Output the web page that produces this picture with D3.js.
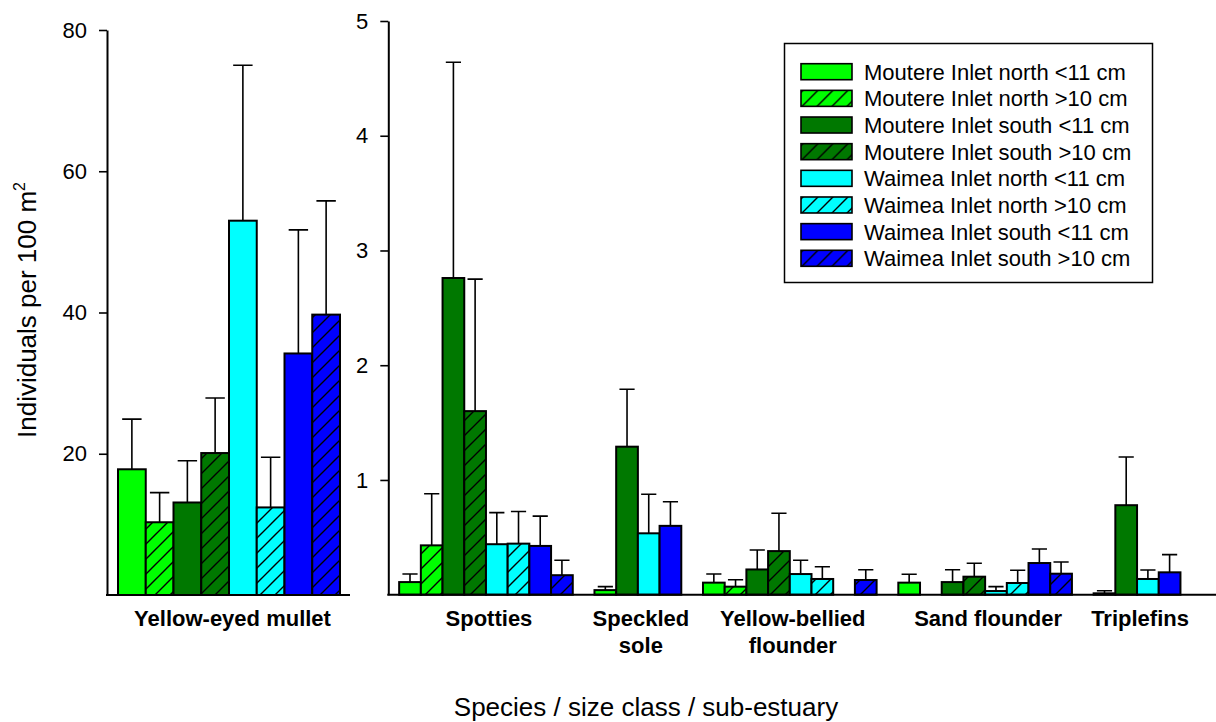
<!DOCTYPE html>
<html>
<head>
<meta charset="utf-8">
<script src="https://cdn.jsdelivr.net/npm/d3@7"></script>
<style>
  body { margin: 0; background: #fff; }
  text { font-family: "Liberation Sans", Arial, sans-serif; }
</style>
</head>
<body>
<div id="chart"></div>
<script>
// series (site x size class)
var seriesNames = [
  "Moutere Inlet north <11 cm", "Moutere Inlet north >10 cm",
  "Moutere Inlet south <11 cm", "Moutere Inlet south >10 cm",
  "Waimea Inlet north <11 cm", "Waimea Inlet north >10 cm",
  "Waimea Inlet south <11 cm", "Waimea Inlet south >10 cm"
];
var seriesColors = ["#00ff00", "#00ff00", "#007800", "#007800", "#00ffff", "#00ffff", "#0000ff", "#0000ff"];
var seriesHatched = [false, true, false, true, false, true, false, true];

// left panel: yellow-eyed mullet (mean, upper error)
var mulletLabel = "Yellow-eyed mullet";
var mulletMean = [17.8, 10.3, 13.1, 20.1, 53.0, 12.4, 34.2, 39.7];
var mulletErr  = [7.1, 4.2, 5.9, 7.8, 22.0, 7.1, 17.5, 16.1];
var leftTicks = [20, 40, 60, 80];

// right panel species, null = no bar
var rightSpecies = ["Spotties", "Speckled\nsole", "Yellow-bellied\nflounder", "Sand flounder", "Triplefins"];
var spottiesMean = [0.11, 0.43, 2.76, 1.60, 0.44, 0.445, 0.425, 0.17];
var spottiesErr  = [0.07, 0.45, 1.88, 1.15, 0.275, 0.28, 0.26, 0.13];
var soleMean = [0.04, null, 1.29, null, 0.535, null, 0.60, null];
var soleErr  = [0.03, null, 0.50, null, 0.34, null, 0.21, null];
var ybFlounderMean = [0.105, 0.07, 0.22, 0.38, 0.18, 0.137, null, 0.128];
var ybFlounderErr  = [0.075, 0.06, 0.17, 0.33, 0.12, 0.107, null, 0.09];
var sandFlounderMean = [0.105, null, 0.11, 0.157, 0.032, 0.102, 0.276, 0.183];
var sandFlounderErr  = [0.073, null, 0.108, 0.117, 0.038, 0.111, 0.122, 0.102];
var triplefinsMean = [0.012, null, 0.78, null, 0.137, null, 0.195, null];
var triplefinsErr  = [0.023, null, 0.42, null, 0.078, null, 0.154, null];
var rightTicks = [1, 2, 3, 4, 5];

var rightMeans = [spottiesMean, soleMean, ybFlounderMean, sandFlounderMean, triplefinsMean];
var rightErrs = [spottiesErr, soleErr, ybFlounderErr, sandFlounderErr, triplefinsErr];

var width = 1216, height = 722;
var svg = d3.select("#chart").append("svg")
  .attr("width", width).attr("height", height);
svg.append("rect").attr("width", width).attr("height", height).attr("fill", "#fff");

// hatch patterns
var defs = svg.append("defs");
seriesColors.forEach(function (c, i) {
  if (!seriesHatched[i]) return;
  var p = defs.append("pattern")
    .attr("id", "hatch" + i)
    .attr("patternUnits", "userSpaceOnUse")
    .attr("width", 15).attr("height", 15);
  p.append("rect").attr("width", 15).attr("height", 15).attr("fill", c);
  p.append("path")
    .attr("d", "M0,15L15,0M-3,3L3,-3M12,18L18,12")
    .attr("stroke", "#000").attr("stroke-width", 1.4);
});
function fillFor(i) {
  return seriesHatched[i] ? "url(#hatch" + i + ")" : seriesColors[i];
}

function drawBars(g, bars, y) {
  // bars: {x, w, mean, err, s}
  g.selectAll(".err").data(bars).join("path")
    .attr("class", "err")
    .attr("fill", "none").attr("stroke", "#000").attr("stroke-width", 1.6)
    .attr("d", function (d) {
      var cx = d.x + d.w / 2, t = y(d.mean + d.err), cw = d.w * 0.35;
      return "M" + cx + "," + y(d.mean) + "V" + t + "M" + (cx - cw) + "," + t + "H" + (cx + cw);
    });
  g.selectAll(".bar").data(bars).join("rect")
    .attr("class", "bar")
    .attr("x", function (d) { return d.x; })
    .attr("width", function (d) { return d.w; })
    .attr("y", function (d) { return y(d.mean); })
    .attr("height", function (d) { return y(0) - y(d.mean); })
    .attr("fill", function (d) { return fillFor(d.s); })
    .attr("stroke", "#000").attr("stroke-width", 2);
}

function styleAxis(g) {
  g.select(".domain").attr("stroke-width", 2);
  g.selectAll(".tick line").attr("stroke-width", 1.6);
  g.selectAll(".tick text").attr("font-size", 22).attr("font-family", "Liberation Sans, Arial, sans-serif");
}

// ---------- left panel ----------
var yLeft = d3.scaleLinear().domain([0, 80]).range([595, 30]);
var xLeft = d3.scaleBand().domain(d3.range(8)).range([118, 340]).padding(0);

var left = svg.append("g");
var leftBars = mulletMean.map(function (m, i) {
  return { x: xLeft(i), w: xLeft.bandwidth(), mean: m, err: mulletErr[i], s: i };
});
drawBars(left, leftBars, yLeft);

left.append("g").attr("transform", "translate(107,0)")
  .call(d3.axisLeft(yLeft).tickValues(leftTicks).tickFormat(d3.format("d"))
    .tickSize(8).tickSizeOuter(0).tickPadding(12))
  .call(styleAxis);
left.append("line").attr("x1", 106).attr("x2", 350).attr("y1", yLeft(0)).attr("y2", yLeft(0))
  .attr("stroke", "#000").attr("stroke-width", 2);
left.append("text")
  .attr("x", (107 + 350) / 2 + 4).attr("y", 626)
  .attr("text-anchor", "middle").attr("font-size", 22).attr("font-weight", "bold")
  .text(mulletLabel);

// ---------- right panel ----------
var yRight = d3.scaleLinear().domain([0, 5]).range([594.7, 21]);

// slot layout: groups with no >10 cm data only get the <11 cm slots
var pos = 0.5, rightBars = [], groupCenters = [];
rightMeans.forEach(function (means, gi) {
  var hasLarge = means.some(function (v, i) { return seriesHatched[i] && v !== null; });
  var slots = d3.range(8).filter(function (i) { return hasLarge || !seriesHatched[i]; });
  slots.forEach(function (s, k) {
    if (means[s] !== null) rightBars.push({ slot: pos + k, mean: means[s], err: rightErrs[gi][s], s: s });
  });
  groupCenters.push(pos + slots.length / 2);
  pos += slots.length + 1;
});
var totalSlots = pos - 0.5;
var xRight = d3.scaleLinear().domain([0, totalSlots]).range([388.3, 1191.3]);
var slotW = xRight(1) - xRight(0);
rightBars.forEach(function (d) { d.x = xRight(d.slot); d.w = slotW; });

var right = svg.append("g");
drawBars(right, rightBars, yRight);
right.append("g").attr("transform", "translate(388.3,0)")
  .call(d3.axisLeft(yRight).tickValues(rightTicks).tickFormat(d3.format("d"))
    .tickSize(8).tickSizeOuter(0).tickPadding(12))
  .call(styleAxis);
right.append("line").attr("x1", 387.3).attr("x2", 1216).attr("y1", yRight(0)).attr("y2", yRight(0))
  .attr("stroke", "#000").attr("stroke-width", 2);

right.selectAll(".grp").data(rightSpecies).join("text")
  .attr("class", "grp")
  .attr("text-anchor", "middle").attr("font-size", 22).attr("font-weight", "bold")
  .each(function (d, i) {
    var t = d3.select(this), lines = d.split("\n"), cx = xRight(groupCenters[i]) + 3;
    lines.forEach(function (l, k) {
      t.append("tspan").attr("x", cx).attr("y", 626 + k * 27).text(l);
    });
  });

// ---------- legend ----------
var legend = svg.append("g");
legend.append("rect")
  .attr("x", 784.5).attr("y", 43.5).attr("width", 368).attr("height", 239)
  .attr("fill", "#fff").attr("stroke", "#000").attr("stroke-width", 1.5);
var rowY = d3.scalePoint().domain(d3.range(8)).range([71.7, 258.3]);
var rows = legend.selectAll(".lg").data(seriesNames).join("g")
  .attr("class", "lg")
  .attr("transform", function (d, i) { return "translate(0," + rowY(i) + ")"; });
rows.append("rect")
  .attr("x", 801).attr("y", -8).attr("width", 51).attr("height", 16)
  .attr("fill", function (d, i) { return fillFor(i); })
  .attr("stroke", "#000").attr("stroke-width", 1.6);
rows.append("text")
  .attr("x", 864).attr("dy", "0.36em").attr("font-size", 22)
  .text(function (d) { return d; });

// ---------- axis titles ----------
svg.append("text")
  .attr("x", 646).attr("y", 716)
  .attr("text-anchor", "middle").attr("font-size", 26)
  .text("Species / size class / sub-estuary");

var yt = svg.append("text")
  .attr("transform", "translate(36,310) rotate(-90)")
  .attr("text-anchor", "middle").attr("font-size", 26);
yt.append("tspan").text("Individuals per 100 m");
yt.append("tspan").attr("font-size", 16).attr("dy", -11).text("2");
</script>
</body>
</html>
